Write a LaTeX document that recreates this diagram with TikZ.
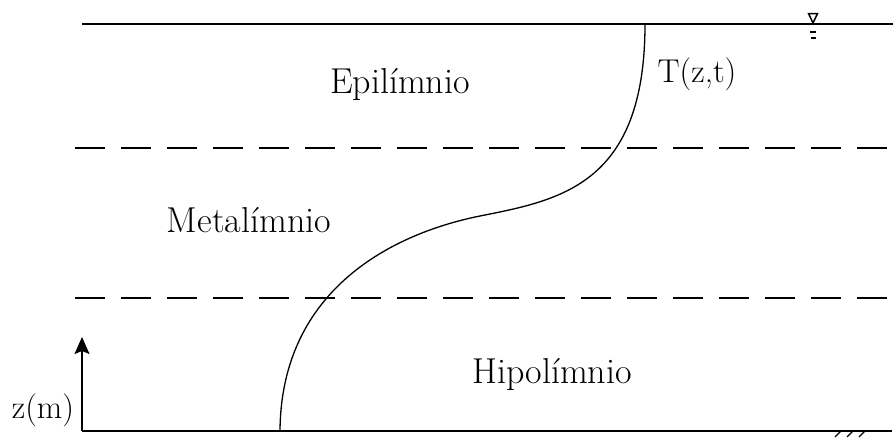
\documentclass[tikz,border=0pt]{standalone}
\usetikzlibrary{arrows.meta}
\begin{document}
\begin{tikzpicture}[x=1pt,y=-1pt,
  lbl/.style={anchor=base,inner sep=0pt,font=\fontsize{36}{42}\selectfont},
  smalllbl/.style={anchor=base,inner sep=0pt,font=\fontsize{33}{38}\selectfont},
  layerline/.style={line width=1.8pt,dash pattern=on 30pt off 16pt},
  thin/.style={line width=1.3pt}]
\useasboundingbox (0,0) rectangle (893,437);
% surface
\coordinate (sL) at (82,24);
\coordinate (sM) at (261,24);
\coordinate (sR) at (893,24);
\draw[line width=2.8pt] (sL) -- (sM);
\draw[thin] (sM) -- (sR);
% water level symbol
\draw[line width=1.5pt] (808.5,13.5) -- (817.5,13.5) -- (813,23) -- cycle;
\draw[line width=1.5pt] (810,32) -- (816,32);
\draw[line width=1.5pt] (810.5,38) -- (815.5,38);
% layer boundaries
\coordinate (d1L) at (75,148);
\coordinate (d1R) at (893,148);
\coordinate (d2L) at (75,298);
\coordinate (d2R) at (893,298);
\draw[layerline] (d1L) -- (d1R);
\draw[layerline] (d2L) -- (d2R);
% bottom
\coordinate (bL) at (82,431);
\coordinate (bR) at (892,431);
\draw[thin] (bL) -- (bR);
\foreach \x in {835,847,859}
  \draw[line width=1.3pt] (\x,437) -- (\x+6,431);
% axis
\coordinate (zTop) at (82,337);
\draw[thin,-{Stealth[length=17pt,width=15pt,inset=3pt]}] (bL) -- (zTop);
\node[smalllbl] (zm) at (43,418) {z(m)};
% temperature profile
\coordinate (p0) at (645,24);
\coordinate (p2) at (480,216);
\coordinate (p4) at (280,431);
\draw[thin] (p0) .. controls (645,185) and (560,200) .. (p2)
  .. controls (395,233) and (281,288) .. (p4);
% labels
\node[smalllbl] (T) at (697,82) {T(z,t)};
\node[lbl] (epi) at (400,93) {Epilímnio};
\node[lbl] (meta) at (249,232) {Metalímnio};
\node[lbl] (hipo) at (552,383) {Hipolímnio};
\end{tikzpicture}
\end{document}
